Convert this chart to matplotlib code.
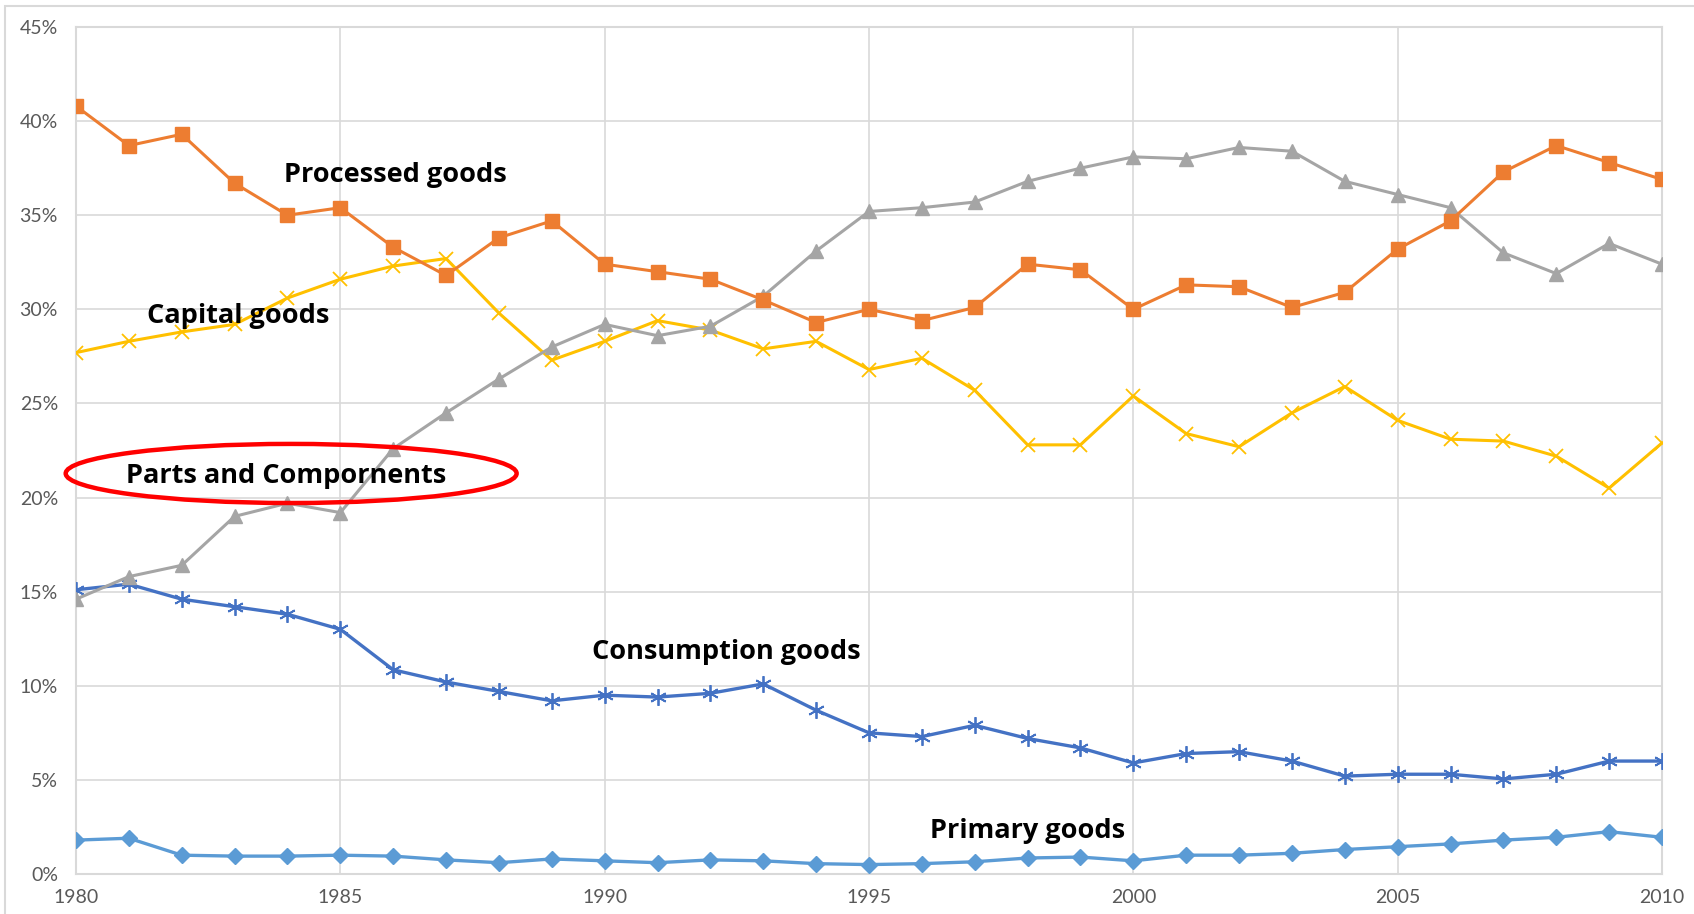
import matplotlib.pyplot as plt
from matplotlib.patches import Ellipse, Rectangle
from matplotlib.ticker import FuncFormatter, MultipleLocator

years = list(range(1980, 2011))

processed = [40.8, 38.7, 39.3, 36.7, 35.0, 35.4, 33.3, 31.8, 33.8, 34.7,
             32.4, 32.0, 31.6, 30.5, 29.3, 30.0, 29.4, 30.1, 32.4, 32.1,
             30.0, 31.3, 31.2, 30.1, 30.9, 33.2, 34.7, 37.3, 38.7, 37.8, 36.9]
parts = [14.6, 15.8, 16.4, 19.0, 19.7, 19.2, 22.6, 24.5, 26.3, 28.0,
         29.2, 28.6, 29.1, 30.7, 33.1, 35.2, 35.4, 35.7, 36.8, 37.5,
         38.1, 38.0, 38.6, 38.4, 36.8, 36.1, 35.4, 33.0, 31.9, 33.5, 32.4]
capital = [27.7, 28.3, 28.8, 29.2, 30.6, 31.6, 32.3, 32.7, 29.8, 27.3,
           28.3, 29.4, 28.9, 27.9, 28.3, 26.8, 27.4, 25.7, 22.8, 22.8,
           25.4, 23.4, 22.7, 24.5, 25.9, 24.1, 23.1, 23.0, 22.2, 20.5, 22.9]
consumption = [15.1, 15.4, 14.6, 14.2, 13.8, 13.0, 10.85, 10.2, 9.7, 9.2,
               9.5, 9.4, 9.6, 10.1, 8.7, 7.5, 7.3, 7.9, 7.2, 6.7,
               5.9, 6.4, 6.5, 6.0, 5.2, 5.3, 5.3, 5.05, 5.3, 6.0, 6.0]
primary = [1.8, 1.9, 1.0, 0.95, 0.95, 1.0, 0.95, 0.75, 0.6, 0.8,
           0.7, 0.6, 0.75, 0.7, 0.55, 0.5, 0.55, 0.65, 0.85, 0.9,
           0.7, 1.0, 1.0, 1.1, 1.3, 1.45, 1.6, 1.8, 1.95, 2.25, 1.95]

fig = plt.figure(figsize=(16.94, 9.14), dpi=100)
ax = fig.add_axes([76/1694, 40/914, (1662-76)/1694, (874-27)/914])

grid_c = '#d9d9d9'
ax.plot(years, primary, color='#5B9BD5', lw=2.4, marker='D', ms=8.5, zorder=3)
ax.plot(years, consumption, color='#4472C4', lw=2.4, marker=(6, 2, 0), ms=12,
        mew=1.3, zorder=3)
ax.plot(years, capital, color='#FFC000', lw=2.2, marker='x', ms=9.5, mew=1.3, zorder=3)
ax.plot(years, parts, color='#A5A5A5', lw=2.2, marker='^', ms=9.5, zorder=3)
ax.plot(years, processed, color='#ED7D31', lw=2.2, marker='s', ms=9.5, zorder=4)

ax.set_xlim(1980, 2010)
ax.set_ylim(0, 45)
ax.xaxis.set_major_locator(MultipleLocator(5))
ax.yaxis.set_major_locator(MultipleLocator(5))
ax.yaxis.set_major_formatter(FuncFormatter(lambda v, p: '%d%%' % round(v)))
ax.grid(True, color=grid_c, lw=1.2, zorder=0)
ax.set_axisbelow(True)
for s in ax.spines.values():
    s.set_color(grid_c)
    s.set_linewidth(1.5)
ax.tick_params(length=0, labelsize=14, labelcolor='#595959')
ax.tick_params(axis='y', pad=13)
ax.tick_params(axis='x', pad=11)
for lab in ax.get_xticklabels() + ax.get_yticklabels():
    lab.set_family('Lato')

lbl = dict(fontsize=19.5, fontweight='bold', family='Open Sans', color='black',
           ha='center', va='center', zorder=6)
ax.text(1986.05, 37.15, 'Processed goods', **lbl)
ax.text(1983.06, 29.65, 'Capital goods', **lbl)
ax.text(1983.97, 21.15, 'Parts and Compornents', **lbl)
ax.text(1992.3, 11.82, 'Consumption goods', **lbl)
ax.text(1998.0, 2.3, 'Primary goods', **lbl)

ax.add_patch(Ellipse((1984.07, 21.28), 8.53, 3.14, fill=False, ec='#FF0000',
                     lw=3.2, zorder=7, clip_on=False))

fig.patches.append(Rectangle((5/1694, -0.1), 1.2, (914-6)/914 + 0.1,
                             transform=fig.transFigure, fill=False,
                             ec='#d9d9d9', lw=1.5))

fig.savefig('out.png', dpi=100)
